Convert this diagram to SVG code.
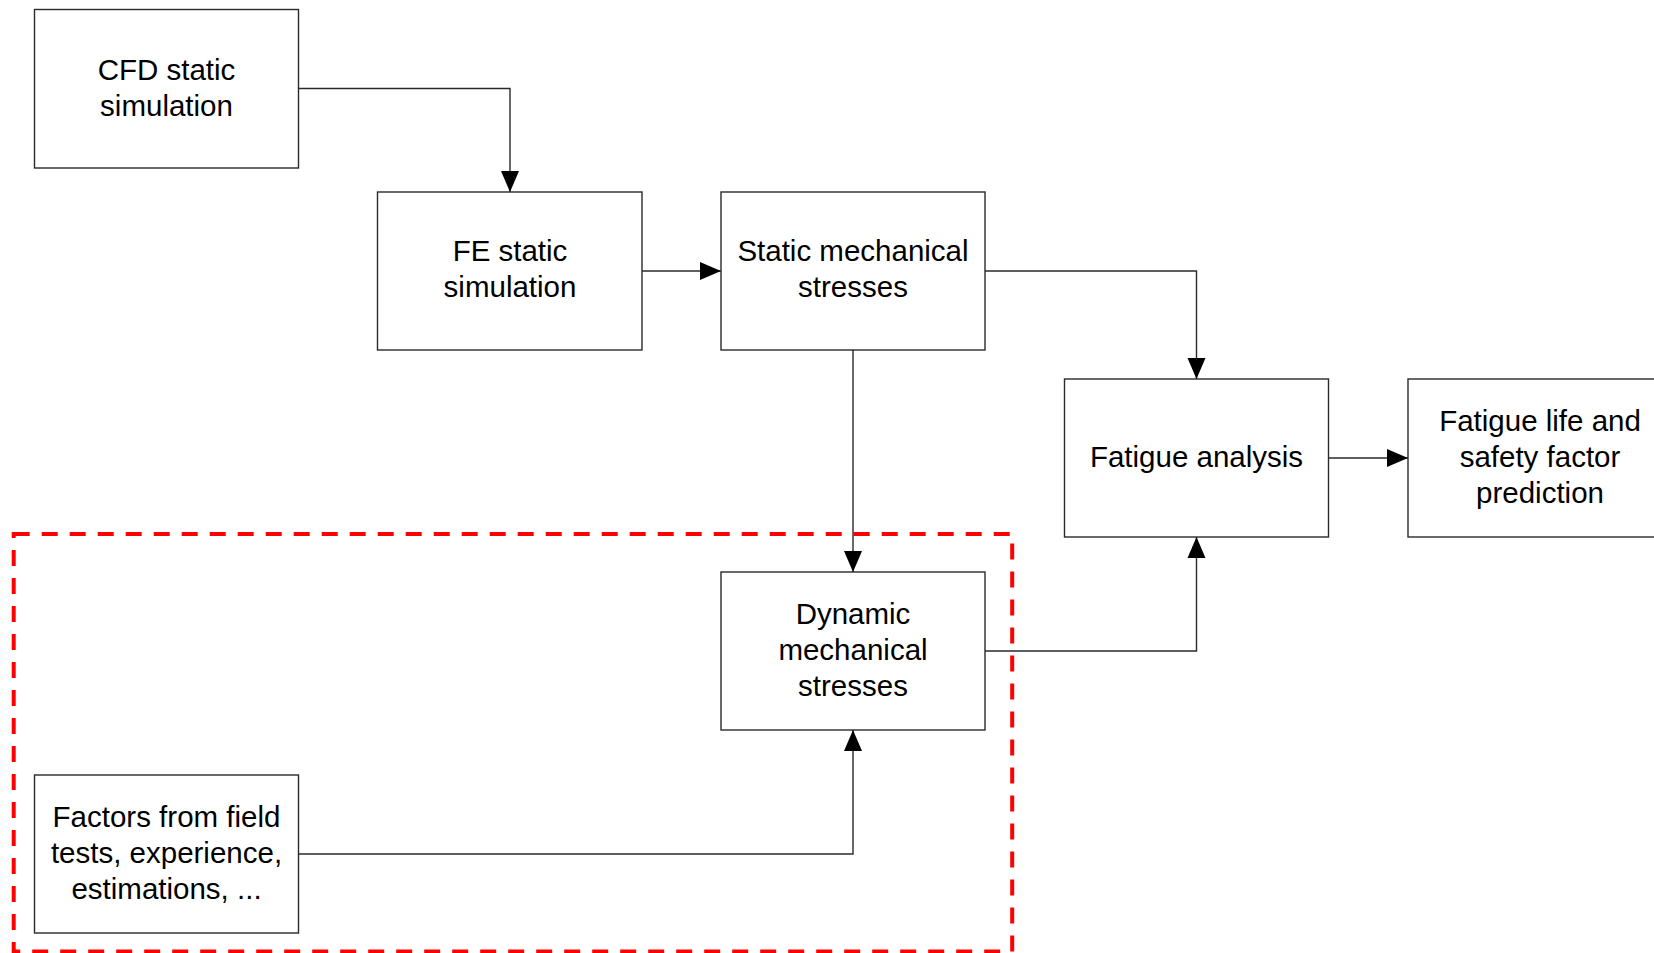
<svg xmlns="http://www.w3.org/2000/svg" width="1654" height="953" viewBox="0 0 1654 953">
  <style>
    .box { fill: #ffffff; stroke: #2a2a2a; stroke-width: 1.4; }
    .lbl { font-family: "Liberation Sans", Arial, sans-serif; font-size: 29.5px; fill: #000000; text-anchor: middle; }
    .wire { fill: none; stroke: #2a2a2a; stroke-width: 1.4; marker-end: url(#arrow); }
    .zone { fill: none; stroke: #ff0000; stroke-width: 4; stroke-dasharray: 16 12; }
  </style>
  <defs>
    <marker id="arrow" markerUnits="userSpaceOnUse" markerWidth="22" markerHeight="20" viewBox="0 0 22 20" refX="21" refY="10" orient="auto">
      <path d="M0,1 L21,10 L0,19 Z" fill="#000000"/>
    </marker>
  </defs>
  <rect width="1654" height="953" fill="#ffffff"/>

  <!-- dynamic-load region -->
  <rect id="dynamic-region" class="zone" x="13.7" y="534" width="998.5" height="417.5"/>

  <!-- connectors -->
  <g id="connectors">
    <path class="wire" d="M298.5,88.5 H510 V192"/>
    <path class="wire" d="M642,271 H721"/>
    <path class="wire" d="M985,271 H1196.5 V379"/>
    <path class="wire" d="M853,350 V572"/>
    <path class="wire" d="M985,651 H1196.5 V537"/>
    <path class="wire" d="M1328.5,458 H1408"/>
    <path class="wire" d="M298.5,854 H853 V730"/>
  </g>

  <g id="cfd-static">
    <rect class="box" x="34.5" y="9.5" width="264" height="158.5"/>
    <text class="lbl" x="166.5" y="79.5">CFD static</text>
    <text class="lbl" x="166.5" y="115.5">simulation</text>
  </g>

  <g id="fe-static">
    <rect class="box" x="377.5" y="192" width="264.5" height="158"/>
    <text class="lbl" x="510" y="261">FE static</text>
    <text class="lbl" x="510" y="297">simulation</text>
  </g>

  <g id="static-stresses">
    <rect class="box" x="721" y="192" width="264" height="158"/>
    <text class="lbl" x="853" y="261">Static mechanical</text>
    <text class="lbl" x="853" y="297">stresses</text>
  </g>

  <g id="fatigue-analysis">
    <rect class="box" x="1064.5" y="379" width="264" height="158"/>
    <text class="lbl" x="1196.5" y="467">Fatigue analysis</text>
  </g>

  <g id="fatigue-life">
    <rect class="box" x="1408" y="379" width="264" height="158"/>
    <text class="lbl" x="1540" y="431">Fatigue life and</text>
    <text class="lbl" x="1540" y="467">safety factor</text>
    <text class="lbl" x="1540" y="503">prediction</text>
  </g>

  <g id="dynamic-stresses">
    <rect class="box" x="721" y="572" width="264" height="158"/>
    <text class="lbl" x="853" y="624">Dynamic</text>
    <text class="lbl" x="853" y="660">mechanical</text>
    <text class="lbl" x="853" y="696">stresses</text>
  </g>

  <g id="field-factors">
    <rect class="box" x="34.5" y="775" width="264" height="158"/>
    <text class="lbl" x="166.5" y="827">Factors from field</text>
    <text class="lbl" x="166.5" y="863">tests, experience,</text>
    <text class="lbl" x="166.5" y="899">estimations, ...</text>
  </g>
</svg>
